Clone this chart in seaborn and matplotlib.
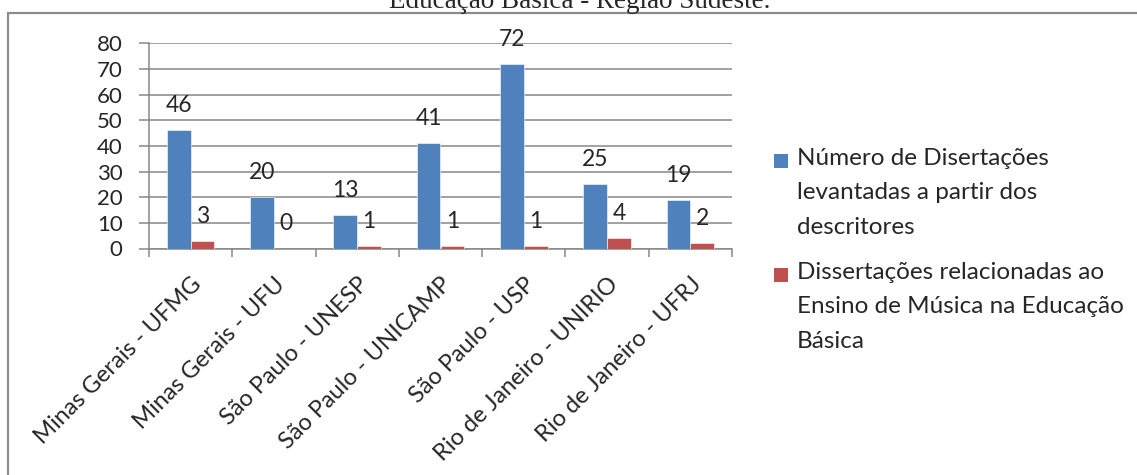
import numpy as np
import pandas as pd
import matplotlib
matplotlib.use("Agg")
import matplotlib.pyplot as plt
import seaborn as sns
from matplotlib.patches import Rectangle
from matplotlib.ticker import FixedLocator

# dados
instituicoes = ["Minas Gerais - UFMG", "Minas Gerais - UFU", "São Paulo - UNESP",
                "São Paulo - UNICAMP", "São Paulo - USP", "Rio de Janeiro - UNIRIO",
                "Rio de Janeiro - UFRJ"]
levantadas = [46, 20, 13, 41, 72, 25, 19]
relacionadas = [3, 0, 1, 1, 1, 4, 2]
series = ["Número de Disertações\nlevantadas a partir dos\ndescritores",
          "Dissertações relacionadas ao\nEnsino de Música na Educação\nBásica"]
y_ticks = [0, 10, 20, 30, 40, 50, 60, 70, 80]
titulo = "Educação Básica - Região Sudeste."

cores = ["#4F81BD", "#C0504D"]
cinza = "#878787"

dados = pd.DataFrame({
    "instituicao": instituicoes * 2,
    "valor": levantadas + relacionadas,
    "serie": [series[0]] * len(instituicoes) + [series[1]] * len(instituicoes),
})

sns.set_style("white")
plt.rcParams["font.family"] = ["Lato", "DejaVu Sans"]

W, H = 1137, 475
fig = plt.figure(figsize=(W / 100, H / 100), dpi=100)

# moldura do gráfico (cortada como no original)
fig.patches.append(Rectangle((8 / W, -0.2), 2, 1.2 - 13 / H, transform=fig.transFigure,
                             fill=False, edgecolor="#8c8c8c", linewidth=1.6, zorder=0))
fig.text(580 / W, 1 - 8 / H, titulo, ha="center", va="baseline",
         family="Liberation Serif", fontsize=19.5)

ax = fig.add_axes([149 / W, 1 - 248.5 / H, 583 / W, 205.3 / H])
sns.barplot(data=dados, x="instituicao", y="valor", hue="serie", palette=cores,
            width=0.57, dodge=True, legend=False, ax=ax, saturation=1,
            edgecolor="white", linewidth=0.4, zorder=3)

ax.set_xlim(-0.5, len(instituicoes) - 0.5)
ax.set_ylim(0, 80)
ax.set_yticks(y_ticks)
ax.yaxis.grid(True, color=cinza, linewidth=1.1, zorder=0)
ax.set_axisbelow(True)
ax.set_xlabel("")
ax.set_ylabel("")

for s in ["top", "right"]:
    ax.spines[s].set_visible(False)
for s in ["left", "bottom"]:
    ax.spines[s].set_color(cinza)
    ax.spines[s].set_linewidth(1.1)

ax.tick_params(axis="y", which="major", direction="out", length=7, width=1.1,
               color=cinza, pad=12, labelsize=16, left=True)
ax.xaxis.set_minor_locator(FixedLocator(np.arange(-0.5, len(instituicoes), 1.0)))
ax.tick_params(axis="x", which="minor", direction="out", length=6, width=1.1,
               color=cinza, bottom=True)
ax.tick_params(axis="x", which="major", length=0, pad=18, labelsize=17)
plt.setp(ax.get_xticklabels(), rotation=45, ha="right", rotation_mode="anchor")

for cont in ax.containers:
    rotulos = ax.bar_label(cont, fmt="%d", padding=13, fontsize=16.5)
    for r in rotulos:
        r.set_va("baseline")

# legenda no estilo do Excel (marcador alinhado à primeira linha)
leg_y = [161, 275]
for i, txt in enumerate(series):
    fig.patches.append(Rectangle((774 / W, 1 - (leg_y[i] + 7) / H), 14 / W, 14 / H,
                                 transform=fig.transFigure, facecolor=cores[i],
                                 edgecolor="none"))
    fig.text(797 / W, 1 - (leg_y[i] - 13) / H, txt, ha="left", va="top",
             fontsize=17.5, linespacing=1.78)

fig.savefig("out.png", dpi=100)
